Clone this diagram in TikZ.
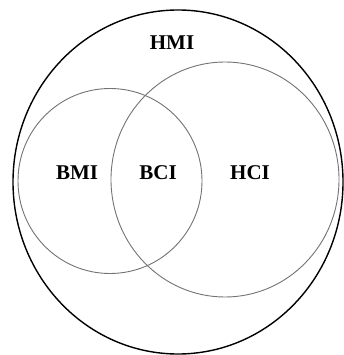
\documentclass[tikz,border=0pt]{standalone}
\usepackage{fontspec}
\setmainfont{Liberation Serif}
\usetikzlibrary{positioning}
\tikzset{every path/.style={semithick}}
\tikzset{setring/.style={draw=black!55, line width=0.9pt}}
\tikzset{setlabel/.style={font=\fontsize{21}{25}\selectfont\bfseries, inner sep=0pt}}

\begin{document}
\begin{tikzpicture}[x=1pt,y=-1pt]
  \useasboundingbox (0,0) rectangle (344,355);

  % outer set
  \draw[line width=1.4pt] (178,182) ellipse (165 and 172);
  % the two inner sets
  \draw[setring] (110,181) ellipse (92 and 92.5);
  \draw[setring] (225,179.5) ellipse (114 and 117.5);

  \node[setlabel] (hmi) at (172,43) {HMI};
  \node[setlabel] (bmi) at (77,173) {BMI};
  \node[setlabel] (bci) at (158,173) {BCI};
  \node[setlabel] (hci) at (250,173) {HCI};
\end{tikzpicture}
\end{document}
